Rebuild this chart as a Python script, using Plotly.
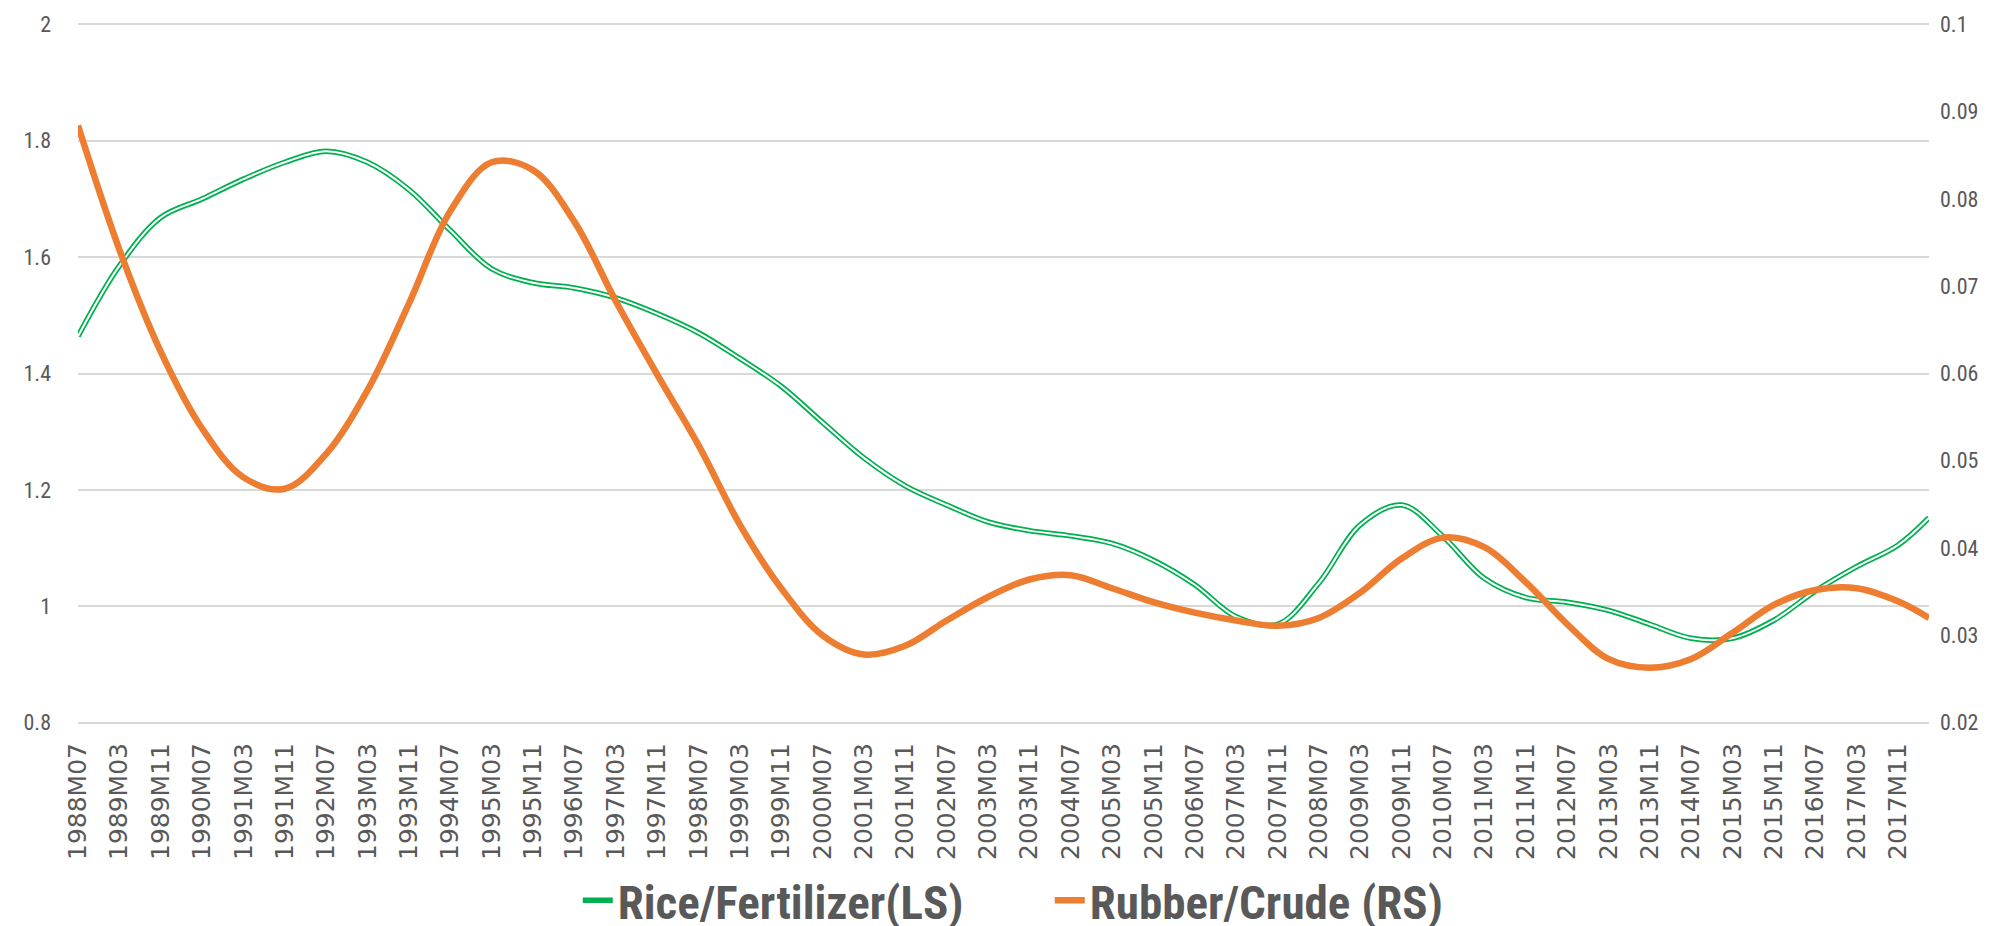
import plotly.graph_objects as go

# ---- data ----
tick_labels = ["1988M07","1989M03","1989M11","1990M07","1991M03","1991M11","1992M07","1993M03",
               "1993M11","1994M07","1995M03","1995M11","1996M07","1997M03","1997M11","1998M07",
               "1999M03","1999M11","2000M07","2001M03","2001M11","2002M07","2003M03","2003M11",
               "2004M07","2005M03","2005M11","2006M07","2007M03","2007M11","2008M07","2009M03",
               "2009M11","2010M07","2011M03","2011M11","2012M07","2013M03","2013M11","2014M07",
               "2015M03","2015M11","2016M07","2017M03","2017M11"]
periods = tick_labels + ["2018M05"]

rice_fert = [1.464, 1.585, 1.668, 1.700, 1.734, 1.763, 1.782, 1.763, 1.716, 1.646,
             1.580, 1.556, 1.547, 1.530, 1.503, 1.470, 1.426, 1.378, 1.316, 1.255,
             1.207, 1.174, 1.145, 1.130, 1.121, 1.108, 1.079, 1.037, 0.982, 0.969,
             1.040, 1.140, 1.174, 1.120, 1.048, 1.015, 1.007, 0.993, 0.969, 0.945,
             0.945, 0.976, 1.026, 1.068, 1.105, 1.152]

rubber_crude = [0.0884, 0.0742, 0.0625, 0.0537, 0.0481, 0.0468, 0.0508, 0.0581, 0.0680, 0.0786,
                0.0842, 0.0833, 0.0774, 0.0683, 0.0599, 0.0518, 0.0427, 0.0354, 0.0300, 0.0278,
                0.0288, 0.0317, 0.0344, 0.0364, 0.0369, 0.0354, 0.0338, 0.0326, 0.0317, 0.0311,
                0.0320, 0.0349, 0.0388, 0.0412, 0.0401, 0.0361, 0.0313, 0.0273, 0.0263, 0.0273,
                0.0303, 0.0335, 0.0352, 0.0354, 0.0339, 0.0320]

left_ticks = [0.8, 1, 1.2, 1.4, 1.6, 1.8, 2]
right_ticks = [0.02, 0.03, 0.04, 0.05, 0.06, 0.07, 0.08, 0.09, 0.1]


def month_index(label):
    y, m = label.split("M")
    return (int(y) - 1988) * 12 + int(m) - 7

x_all = [month_index(p) for p in periods]
x_ticks = [month_index(p) for p in tick_labels]

# small padding so the gridlines at the range ends are drawn
pad = 0.004
left_range = [left_ticks[0] - pad, left_ticks[-1] + pad]
rpad = pad * (right_ticks[-1] - right_ticks[0]) / (left_ticks[-1] - left_ticks[0])
right_range = [right_ticks[0] - rpad, right_ticks[-1] + rpad]

GREEN = "#00b050"
ORANGE = "#ed7d31"
GRAY = "#595959"

fig = go.Figure()
fig.add_trace(go.Scatter(x=x_all, y=rice_fert, mode="lines", name="Rice/Fertilizer(LS)",
                         line=dict(color=GREEN, width=5.5, shape="spline", smoothing=1.0),
                         yaxis="y"))
fig.add_trace(go.Scatter(x=x_all, y=rice_fert, mode="lines", showlegend=False,
                         line=dict(color="white", width=2, shape="spline", smoothing=1.0),
                         yaxis="y", hoverinfo="skip"))
fig.add_trace(go.Scatter(x=x_all, y=rubber_crude, mode="lines", name="Rubber/Crude (RS)",
                         line=dict(color=ORANGE, width=6.5, shape="spline", smoothing=1.0),
                         yaxis="y2"))

label_font = "Liberation Sans Narrow, Arial Narrow, Roboto Condensed, Roboto, sans-serif"

fig.update_layout(
    width=2003, height=926,
    margin=dict(l=70, r=82, t=14, b=209, autoexpand=False),
    paper_bgcolor="white", plot_bgcolor="white",
    showlegend=True,
    legend=dict(orientation="h", x=0.525, xanchor="center", yref="container", y=0.036,
                yanchor="middle",
                font=dict(family=label_font, size=47, color=GRAY, weight="bold"),
                tracegroupgap=0, entrywidth=427, entrywidthmode="pixels"),
    xaxis=dict(range=[0, x_all[-1]], tickmode="array", tickvals=x_ticks, ticktext=tick_labels,
               tickangle=-90, tickfont=dict(family="DejaVu Sans", size=25, color=GRAY),
               showgrid=False, zeroline=False, showline=False, ticks="", ticklen=0,
               ticklabelstandoff=12, automargin=False),
    yaxis=dict(range=left_range, tickmode="array", tickvals=left_ticks,
               ticktext=[f"{v:g}" for v in left_ticks],
               tickfont=dict(family=label_font, size=22, color=GRAY),
               showgrid=True, gridcolor="#d9d9d9", gridwidth=1.5, zeroline=False,
               showline=False, ticks="", ticklabelstandoff=26, automargin=False),
    yaxis2=dict(range=right_range, overlaying="y", side="right", tickmode="array",
                tickvals=right_ticks, ticktext=[f"{v:g}" for v in right_ticks],
                tickfont=dict(family=label_font, size=22, color=GRAY),
                showgrid=False, zeroline=False, showline=False, ticks="", ticklabelstandoff=10,
                automargin=False),
)

fig.write_html("out.html")
